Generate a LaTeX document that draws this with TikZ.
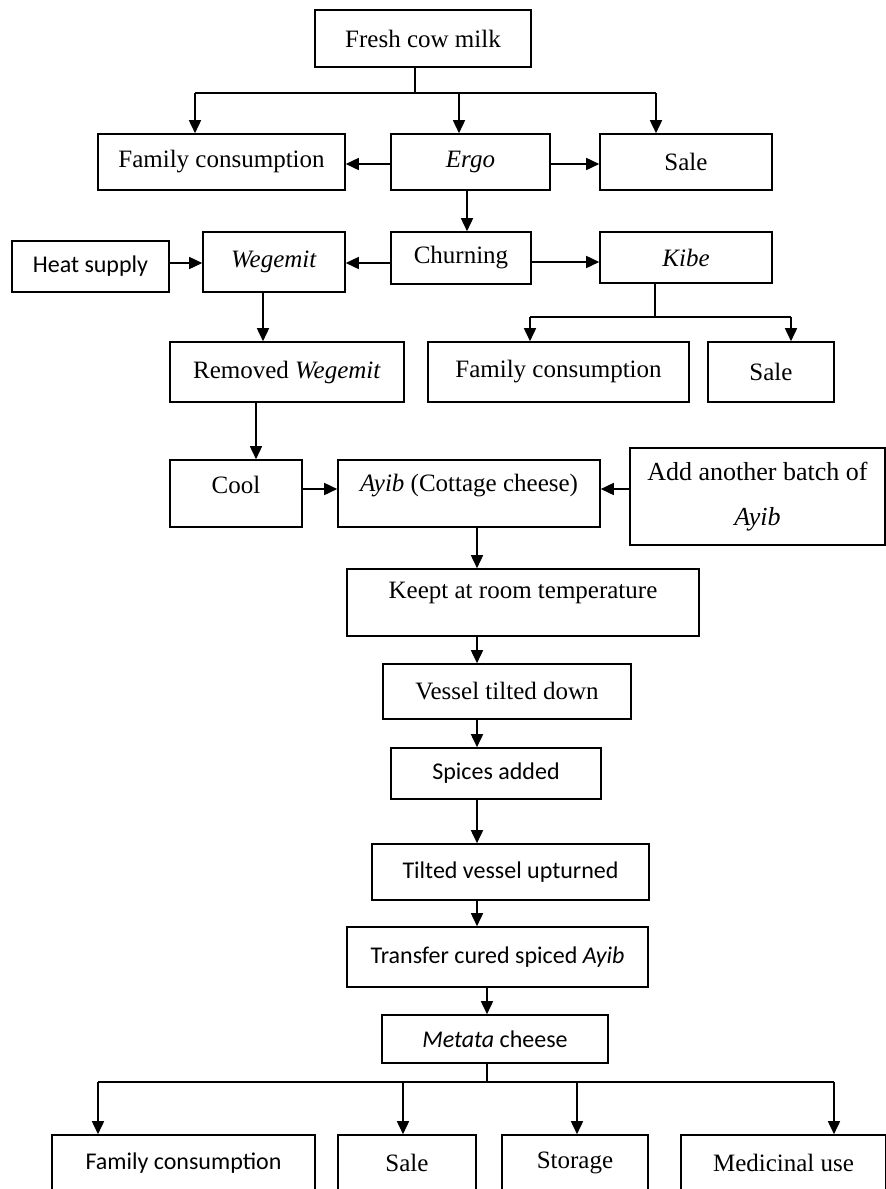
\documentclass[tikz,border=0pt]{standalone}
\usepackage{fontspec}
\setmainfont{Liberation Serif}
\newfontfamily\carl{Carlito}
\usetikzlibrary{arrows.meta}
\newcommand{\lift}[2]{\raisebox{0pt}[\height][\dimexpr\depth+#1\relax]{#2}}
\begin{document}
\begin{tikzpicture}[x=1pt,y=-1pt,
  box/.style={draw, line width=1.6pt, inner sep=0pt, align=center, font=\fontsize{25}{30}\selectfont},
  cbox/.style={box, font=\carl\fontsize{24}{29}\selectfont},
  ln/.style={line width=1.6pt},
  arr/.style={line width=1.6pt, -{Triangle[length=13pt,width=12pt]}}]
\useasboundingbox (0,0) rectangle (886,1189);
\clip (0,0) rectangle (886,1189);
% row 0
\node[box, minimum width=216pt, minimum height=57pt] (fresh) at (423,38.5) {Fresh cow milk};
% row 1
\node[box, minimum width=247pt, minimum height=56pt] (fam1) at (221.5,162) {Family consumption};
\node[box, minimum width=159pt, minimum height=56pt] (ergo) at (470.5,162) {\textit{Ergo}};
\node[box, minimum width=172pt, minimum height=56pt] (sale1) at (686,162) {Sale};
% row 2
\node[cbox, minimum width=157pt, minimum height=51pt] (heat) at (90.5,266.5) {Heat supply};
\node[box, minimum width=142pt, minimum height=60pt] (weg) at (274,262) {\textit{Wegemit}};
\node[box, minimum width=140pt, minimum height=52pt] (churn) at (461,258) {Churning};
\node[box, minimum width=172pt, minimum height=51pt] (kibe) at (686,257.5) {\textit{Kibe}};
% row 3
\node[box, minimum width=234pt, minimum height=60pt] (removed) at (287,372) {Removed \textit{Wegemit}};
\node[box, minimum width=261pt, minimum height=60pt] (fam2) at (558.5,372) {Family consumption};
\node[box, minimum width=126pt, minimum height=60pt] (sale2) at (771,372) {Sale};
% row 4
\node[box, minimum width=132pt, minimum height=67pt] (cool) at (236,493.5) {\lift{17pt}{Cool}};
\node[box, minimum width=262pt, minimum height=67pt] (ayib) at (469,493.5) {\lift{15pt}{\textit{Ayib} (Cottage cheese)}};
\node[box, minimum width=255pt, minimum height=97pt, font=\fontsize{26}{45}\selectfont] (add) at (757.5,496.5) {Add another batch of\\\textit{Ayib}};
% chain
\node[box, minimum width=352pt, minimum height=67pt] (keept) at (523,602.5) {\lift{19pt}{Keept at room temperature}};
\node[box, minimum width=248pt, minimum height=55pt] (vessel) at (507,691.5) {Vessel tilted down};
\node[cbox, minimum width=210pt, minimum height=51pt] (spices) at (496,773.5) {Spices added};
\node[cbox, minimum width=277pt, minimum height=56pt] (tilted) at (510.5,872) {Tilted vessel upturned};
\node[cbox, minimum width=301pt, minimum height=60pt] (transfer) at (497.5,957) {Transfer cured spiced \textit{Ayib}};
\node[cbox, minimum width=226pt, minimum height=48pt] (metata) at (495,1039) {\textit{Metata} cheese};
% bottom row
\node[cbox, minimum width=263pt, minimum height=56pt] (fam3) at (183.5,1163) {Family consumption};
\node[box, minimum width=138pt, minimum height=56pt] (sale3) at (407,1163) {Sale};
\node[box, minimum width=146pt, minimum height=56pt] (storage) at (575,1163) {Storage};
\node[box, minimum width=205pt, minimum height=56pt] (med) at (783.5,1163) {Medicinal use};

% connectors
\coordinate (b1) at (415,93);
\draw[ln] (fresh.south -| b1) -- (b1);
\draw[ln] (195,93) -- (656,93);
\draw[arr] (195,93) -- (fam1.north -| 195,0);
\draw[arr] (459,93) -- (ergo.north -| 459,0);
\draw[arr] (656,93) -- (sale1.north -| 656,0);
\draw[arr] (ergo.west |- 0,164) -- (fam1.east |- 0,164);
\draw[arr] (ergo.east |- 0,164) -- (sale1.west |- 0,164);
\draw[arr] (ergo.south -| 467,0) -- (churn.north -| 467,0);
\draw[arr] (heat.east |- 0,263) -- (weg.west |- 0,263);
\draw[arr] (churn.west |- 0,263) -- (weg.east |- 0,263);
\draw[arr] (churn.east |- 0,262) -- (kibe.west |- 0,262);
\draw[arr] (weg.south -| 263,0) -- (removed.north -| 263,0);
\coordinate (b2) at (655,317);
\draw[ln] (kibe.south -| b2) -- (b2);
\draw[ln] (530,317) -- (791,317);
\draw[arr] (530,317) -- (fam2.north -| 530,0);
\draw[arr] (791,317) -- (sale2.north -| 791,0);
\draw[arr] (removed.south -| 256,0) -- (cool.north -| 256,0);
\draw[arr] (cool.east |- 0,489) -- (ayib.west |- 0,489);
\draw[arr] (add.west |- 0,489) -- (ayib.east |- 0,489);
\draw[arr] (ayib.south -| 477,0) -- (keept.north -| 477,0);
\draw[arr] (keept.south -| 477,0) -- (vessel.north -| 477,0);
\draw[arr] (vessel.south -| 477,0) -- (spices.north -| 477,0);
\draw[arr] (spices.south -| 477,0) -- (tilted.north -| 477,0);
\draw[arr] (tilted.south -| 477,0) -- (transfer.north -| 477,0);
\draw[arr] (transfer.south -| 487,0) -- (metata.north -| 487,0);
\coordinate (b3) at (487,1082);
\draw[ln] (metata.south -| b3) -- (b3);
\draw[ln] (98,1082) -- (834,1082);
\draw[arr] (98,1082) -- (fam3.north -| 98,0);
\draw[arr] (403,1082) -- (sale3.north -| 403,0);
\draw[arr] (577,1082) -- (storage.north -| 577,0);
\draw[arr] (834,1082) -- (med.north -| 834,0);
\end{tikzpicture}
\end{document}
